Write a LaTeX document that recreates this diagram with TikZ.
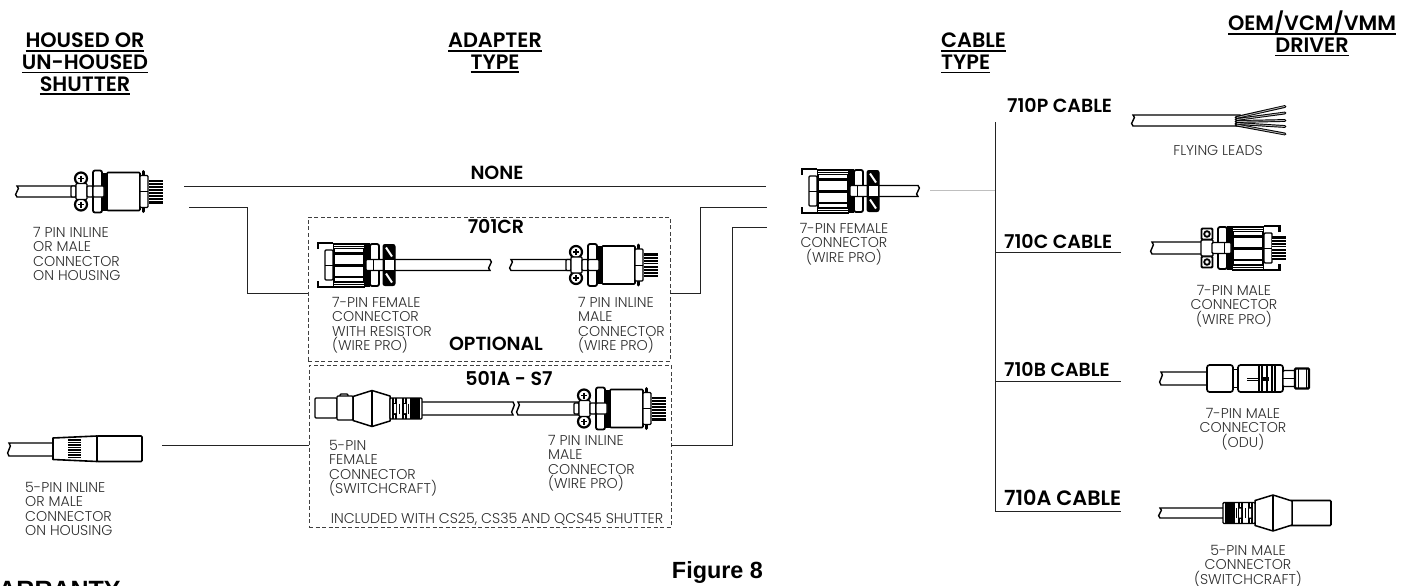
\documentclass[tikz,border=0pt]{standalone}
\usepackage{fontspec}
\usepackage{xcolor}
\usetikzlibrary{positioning}
\setmainfont{Liberation Sans}
\newfontfamily\gothiclight{Poppins Light}
\newfontfamily\gothicbold{Poppins SemiBold}
\definecolor{tagink}{RGB}{45,45,45}
\definecolor{linkink}{RGB}{35,35,35}
\newsavebox{\headbox}
\newcommand{\headrule}[1]{\sbox{\headbox}{#1}\rlap{\rule[-3.8pt]{\wd\headbox}{1.7pt}}\usebox{\headbox}}
\newcommand{\cablerun}[4]{%
  \draw[shell,rounded corners=0pt] (#1,#3-#4) -- (#2,#3-#4)
    .. controls (#2+5,#3-#4/2) and (#2-5,#3+#4/2) .. (#2,#3+#4)
    -- (#1,#3+#4) .. controls (#1-5,#3+#4/2) and (#1+5,#3-#4/2) .. cycle;}
\tikzset{
  headfont/.style={font=\gothicbold\fontsize{20.8}{21.6}\selectfont},
  head/.style={headfont,align=center,inner sep=0pt,anchor=north,text=black},
  tag/.style={font=\gothiclight\fontsize{14.2}{14.6}\selectfont,inner sep=0pt,text=tagink},
  taglist/.style={tag,align=left,anchor=north west},
  tagmid/.style={tag,align=center,anchor=north},
  kind/.style={font=\gothicbold\fontsize{19}{19}\selectfont,inner sep=0pt,anchor=base west,text=black},
  kindmid/.style={kind,anchor=base},
  link/.style={draw=linkink,line width=1pt},
  adapterbox/.style={draw=black!75,line width=.8pt,inner sep=0pt,dash pattern=on 4pt off 2.5pt},
  shell/.style={draw=black,line width=1.4pt,fill=white,rounded corners=1pt},
  crosshead/.pic={
    \draw[black,line width=2.2pt,fill=white] (0,0) circle (6);
    \draw[black,line width=1.5pt] (-3,0) -- (3,0) (0,-3) -- (0,3);
  },
  holehead/.pic={
    \draw[shell,line width=1.8pt] (-5.5,-5.5) rectangle (5.5,5.5);
    \draw[black,line width=1.8pt] (0,0) circle (2.8);
  },
  pinstrip/.pic={
    \fill[black] (0,-12) rectangle (14,12);
    \foreach \py in {-9,-6,-3,3,6,9} \draw[white,line width=.6pt] (0,\py) -- (14,\py);
    \draw[white,line width=1.2pt] (0,0) -- (14,0);
  },
  maleplug/.pic={
    \draw[shell] (0,-5.5) rectangle (5,5.5);
    \path (10,-13) pic {crosshead} (10,13) pic {crosshead};
    \draw[shell] (5,-8) rectangle (16,8);
    \draw[shell] (16,-5.5) rectangle (22,5.5);
    \draw[shell,line width=1.8pt,rounded corners=2pt] (22,-21) rectangle (31,21);
    \fill[black] (31,-19) rectangle (36,19);
    \draw[shell] (22,-5.5) rectangle (33,5.5);
    \draw[shell,line width=1.6pt] (36,-19) rectangle (69,19);
    \draw[black,line width=3pt,line cap=round] (72.5,-20) -- (72.5,20);
    \draw[shell] (69,-16) rectangle (77,16);
    \draw[black,line width=.8pt] (69,0) -- (77,0);
    \path (78,0) pic {pinstrip};
  },
  ribcoupler/.pic={
    \draw[black,line width=2.6pt] (.8,-16) -- (.8,-22) -- (16,-22) (.8,16) -- (.8,22) -- (16,22);
    \draw[shell] (8,-15) rectangle (16,15);
    \draw[black,line width=.8pt] (8,0) -- (16,0);
    \fill[black] (16,-22.5) rectangle (48,22.5);
    \foreach \ry/\rh in {-14.5/1.8,-6/4.5,6/4.5,14.5/1.8} \fill[white] (18,\ry-\rh) rectangle (46,\ry+\rh);
    \foreach \ry in {-20,-18,18,20} \draw[white,line width=.5pt] (17,\ry) -- (47,\ry);
    \fill[black] (48,-22) rectangle (53,22);
    \draw[shell,line width=1.8pt,rounded corners=2pt] (53,-21) rectangle (62,21);
    \draw[shell] (49,-5.5) rectangle (68,5.5);
    \draw[black,line width=1pt] (56,-5.5) -- (56,5.5);
  },
  blacknut/.pic={
    \draw[black,line width=1pt,fill=black,rounded corners=2pt] (0,-20.5) rectangle (12,20.5);
    \fill[white] (1.5,-5.5) rectangle (10.5,5.5);
    \draw[black,line width=1pt] (0,-5.5) -- (12,-5.5) (0,5.5) -- (12,5.5);
    \foreach \sy in {-13,13} \draw[white,line width=2pt] (3,\sy-4.5) -- (9,\sy+4.5);
  },
  holenut/.pic={
    \path (6,-14) pic {holehead} (6,14) pic {holehead};
    \draw[shell] (0,-8) rectangle (12,8);
  },
  conerelief/.pic={
    \draw[black,line width=1.5pt,fill=white,line join=round] (0,-12) -- (19,-18) -- (37,-12.5) -- (37,12.5) -- (19,18) -- (0,12) -- cycle;
    \draw[black,line width=1.4pt] (19,-18) -- (19,18);
    \draw[shell] (37,-10.5) rectangle (69,10.5);
    \foreach \cx in {40,43,50,53,58,60,62,64,66} \draw[black,line width=1.7pt] (\cx,-10.5) -- (\cx,10.5);
    \foreach \cx in {46.5,55.5} \draw[black,line width=1.2pt] (\cx,-5) -- (\cx,5);
    \draw[black,line width=3pt] (42,-6) -- (42,6) (52,-6) -- (52,6);
    \fill[white] (41,-4.5) rectangle (43,4.5) (51,-4.5) rectangle (53,4.5);
  },
  odubarrel/.pic={
    \draw[shell,line width=1.7pt,rounded corners=2.5pt] (0,-13.5) rectangle (26,13.5);
    \draw[shell,line width=1.7pt,rounded corners=2.5pt] (31,-13.5) rectangle (76,13.5);
    \draw[black,line width=1pt] (26,-9) -- (31,-9) (26,9) -- (31,9);
    \draw[black,line width=1.2pt] (40,0) -- (51,0) (40,2) -- (51,2);
    \foreach \ox in {52,54.5,60,65,68} \draw[black,line width=2pt] (\ox,-13.5) -- (\ox,13.5);
    \fill[black] (54,-2) rectangle (62,2);
    \draw[shell] (76,-8) rectangle (88,8);
    \draw[black,line width=1pt] (76,0) -- (88,0);
    \draw[shell,line width=2.4pt] (88,-10) rectangle (102,10);
    \draw[black,line width=1pt] (91,-10) -- (91,10) (99,-10) -- (99,10);
  },
  slimplug/.pic={
    \draw[black,line width=1.6pt,fill=white,line join=round] (0,-11) -- (44,-13) -- (44,12.5) -- (0,10.5) -- cycle;
    \foreach \sy in {-9,-6.5,-4,-1.5,1,3.5,6,8.5} \draw[black,line width=1.6pt] (15,\sy) -- (28,\sy);
    \draw[shell,line width=1.6pt] (44,-13) rectangle (89,12.5);
  },
  leadfan/.pic={
    \foreach \ly/\lz in {-3/-14,-1/-7.5,1/0,3/6,4.5/13.5} {
      \draw[black,line width=2.8pt,line cap=round] (0,\ly) -- (49,\lz);
      \draw[white!70!black,line width=.9pt,line cap=round] (1,\ly) -- (48.5,\lz);
    }
  },
}
\begin{document}
\begin{tikzpicture}[x=1pt,y=-1pt]
  \useasboundingbox (0,0) rectangle (1401,586);
  \clip (0,0) rectangle (1401,586);

  % column heads
  \node[head] (headhoused) at (85,33) {\headrule{HOUSED OR}\\\headrule{UN-HOUSED}\\\headrule{SHUTTER}};
  \node[head] (headadapter) at (495,33) {\headrule{ADAPTER}\\\headrule{TYPE}};
  \node[head,align=left,anchor=north west] (headcable) at (941,33) {\headrule{CABLE}\\\headrule{TYPE}};
  \node[head] (headdriver) at (1312,11) {\headrule{OEM/VCM/VMM}\\\headrule{DRIVER}};

  % adapter boxes
  \node[adapterbox,minimum width=362pt,minimum height=144pt] (boxcr) at (489,289) {};
  \node[adapterbox,minimum width=362pt,minimum height=162pt] (boxsw) at (490,446) {};
  \node[kindmid] (labnone) at (497,179) {NONE};
  \node[kindmid] (labcr) at (496,233) {701CR};
  \node[kindmid] (labopt) at (496,350) {OPTIONAL};
  \node[kindmid] (labsw) at (509,385) {501A - S7};

  % links between shutter, adapter and cable
  \coordinate (feednone) at (184,186);
  \coordinate (endnone) at (766,186);
  \coordinate (feedcr) at (189,207);
  \coordinate (crleft) at (308,293);
  \coordinate (crright) at (670,293);
  \coordinate (endcr) at (767,207);
  \coordinate (feedsw) at (162,445);
  \coordinate (swleft) at (309,445);
  \coordinate (swright) at (671,445);
  \coordinate (endsw) at (767,227);
  \draw[link] (feednone) -- (endnone);
  \draw[link] (feedcr) -- ++(58,0) |- (crleft);
  \draw[link] (crright) -- ++(30,0) |- (endcr);
  \draw[link] (feedsw) -- (swleft);
  \draw[link] (swright) -- ++(61,0) |- (endsw);

  % cable bus
  \coordinate (tailout) at (930,190);
  \coordinate (bustop) at (995,122);
  \coordinate (busc) at (995,252);
  \coordinate (busb) at (995,381);
  \coordinate (busa) at (995,511);
  \coordinate (busin) at (995,190);
  \coordinate (endc) at (1121,252);
  \coordinate (endb) at (1121,381);
  \coordinate (enda) at (1121,511);
  \draw[draw=black!25,line width=1pt] (tailout) -- (busin);
  \draw[link] (bustop) -- (busa);
  \draw[link] (busc) -- (endc);
  \draw[link] (busb) -- (endb);
  \draw[link] (busa) -- (enda);
  \node[kind] (labp) at (1007,113) {710P CABLE};
  \node[kind] (labc) at (1004,248) {710C CABLE};
  \node[kind] (labb) at (1004,376) {710B CABLE};
  \node[kind,font=\gothicbold\fontsize{20.8}{21}\selectfont] (laba) at (1004,505) {710A CABLE};

  % shutter side
  \cablerun{17}{75}{191.5}{5.5}
  \pic (plughoused) at (71,191.5) {maleplug};
  \node[taglist] (tagA) at (33,226.7) {7 PIN INLINE\\OR MALE\\CONNECTOR\\ON HOUSING};
  \cablerun{9}{56}{449.5}{6.5}
  \pic (plugslim) at (53,449) {slimplug};
  \node[taglist] (tagB) at (25,481.7) {5-PIN INLINE\\OR MALE\\CONNECTOR\\ON HOUSING};

  % 701CR adapter
  \cablerun{390}{490}{265}{5.5}
  \pic (crcoupler) at (317,265) {ribcoupler};
  \pic (crnut) at (383,265) {blacknut};
  \cablerun{511}{570}{265}{5.5}
  \pic (crplug) at (566,265) {maleplug};
  \node[taglist] (tagC) at (332,296.7) {7-PIN FEMALE\\CONNECTOR\\WITH RESISTOR\\(WIRE PRO)};
  \node[taglist] (tagD) at (578,296.7) {7 PIN INLINE\\MALE\\CONNECTOR\\(WIRE PRO)};

  % 501A adapter
  \cablerun{415}{513}{408.5}{6.5}
  \cablerun{518}{578}{408.5}{6.5}
  \draw[shell] (315,398) rectangle (337,418);
  \draw[shell] (340,394) rectangle (348,400);
  \draw[shell] (337,396) rectangle (353,420);
  \pic (swcone) at (353,408.5) {conerelief};
  \pic (swplug) at (574,408.5) {maleplug};
  \node[taglist] (tagE) at (329,439.7) {5-PIN\\FEMALE\\CONNECTOR\\(SWITCHCRAFT)};
  \node[taglist] (tagF) at (548,434.7) {7 PIN INLINE\\MALE\\CONNECTOR\\(WIRE PRO)};
  \node[tagmid] (tagG) at (497,512.7) {INCLUDED WITH CS25, CS35 AND QCS45 SHUTTER};

  % female on the cable
  \cablerun{875}{918}{191}{5.5}
  \pic (fecoupler) at (801,191) {ribcoupler};
  \pic (fenut) at (867,191) {blacknut};
  \node[tagmid] (tagH) at (844,222.7) {7-PIN FEMALE\\CONNECTOR\\(WIRE PRO)};

  % driver side
  \cablerun{1133}{1240}{120.5}{5.5}
  \pic (fan) at (1236,120.5) {leadfan};
  \node[tagmid] (tagI) at (1218,145.7) {FLYING LEADS};
  \cablerun{1152}{1206}{248}{6}
  \pic (mcnut) at (1201,248) {holenut};
  \pic[xscale=-1] (mccoupler) at (1280,248) {ribcoupler};
  \pic (mcpins) at (1272,248) {pinstrip};
  \node[tagmid] (tagJ) at (1234,284.7) {7-PIN MALE\\CONNECTOR\\(WIRE PRO)};
  \cablerun{1161}{1212}{378.5}{6.5}
  \pic (odu) at (1207,378.5) {odubarrel};
  \node[tagmid] (tagK) at (1243,407.7) {7-PIN MALE\\CONNECTOR\\(ODU)};
  \cablerun{1160}{1226}{513}{5}
  \draw[shell,line width=1.6pt] (1290,500.5) rectangle (1331,525.5);
  \pic[xscale=-1] (swmale) at (1292,513) {conerelief};
  \node[tagmid] (tagL) at (1248,544.7) {5-PIN MALE\\CONNECTOR\\(SWITCHCRAFT)};

  % page text
  \node[font=\bfseries\fontsize{23.4}{23.4}\selectfont,inner sep=0pt,anchor=base] (figcap) at (717.5,578) {Figure 8};
  \node[font=\bfseries\fontsize{25}{25}\selectfont,inner sep=0pt,anchor=base west] (wtitle) at (-24,598) {WARRANTY};
\end{tikzpicture}
\end{document}
